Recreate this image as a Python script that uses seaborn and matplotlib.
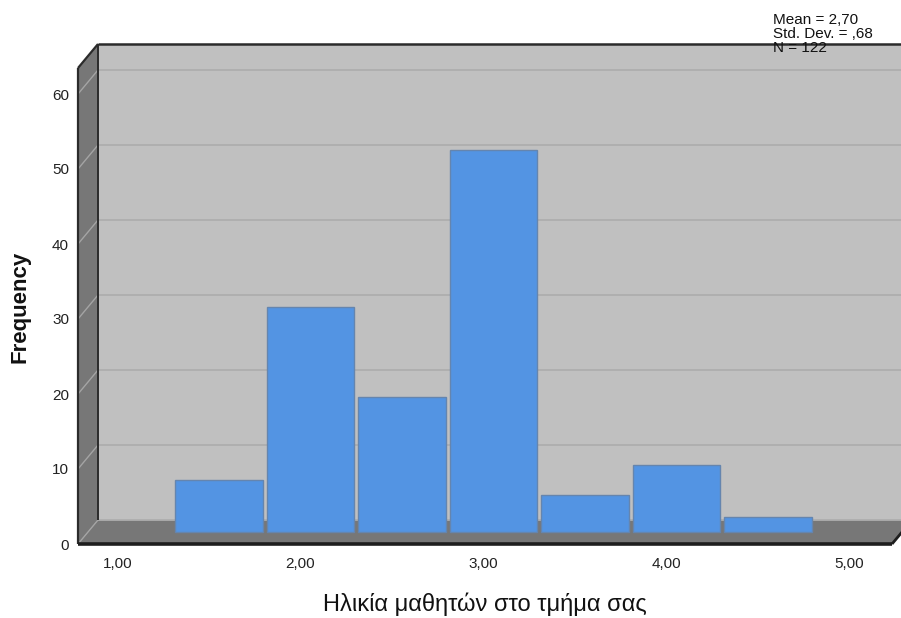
import numpy as np
import pandas as pd
import matplotlib
matplotlib.use("Agg")
import matplotlib.pyplot as plt
import seaborn as sns
from matplotlib.patches import Polygon
from matplotlib.lines import Line2D
from matplotlib.transforms import ScaledTranslation, IdentityTransform

# Histogram of student ages (coded 1-5), bins of width 0.5
bin_centers = [1.5, 2.0, 2.5, 3.0, 3.5, 4.0, 4.5]
counts = [7, 30, 18, 51, 5, 9, 2]
bin_width = 0.5
x_ticks = [1, 2, 3, 4, 5]
x_tick_labels = ["1,00", "2,00", "3,00", "4,00", "5,00"]
y_ticks = [0, 10, 20, 30, 40, 50, 60]
y_tick_labels = ["0", "10", "20", "30", "40", "50", "60"]
stats_lines = ["Mean = 2,70", "Std. Dev. = ,68", "N = 122"]
x_label = "Ηλικία μαθητών στο τμήμα σας"
y_label = "Frequency"

sns.set_theme(style="white")
plt.rcParams['font.family'] = ['Liberation Sans', 'DejaVu Sans']

W, H, DPI = 901, 618, 100
fig = plt.figure(figsize=(W / DPI, H / DPI), dpi=DPI)
fig.patch.set_facecolor("white")

# front plane of the 3D box, in pixels
fx0, fx1, fy0, fy1 = 78, 892, 544, 68
ax = fig.add_axes([fx0 / W, 1 - fy0 / H, (fx1 - fx0) / W, (fy0 - fy1) / H])
ax.patch.set_visible(False)
for s in ax.spines.values():
    s.set_visible(False)

px_per_unit_x = 183.0
px_per_unit_y = 7.5
xmin = 1 - (117.5 - fx0) / px_per_unit_x
xmax = xmin + (fx1 - fx0) / px_per_unit_x
ymax = (fy0 - fy1) / px_per_unit_y

# depth of the box (pixels right / up from front to back wall)
DX, DY = 20, 24

def depth(frac):
    return ScaledTranslation(frac * DX / DPI, frac * DY / DPI, fig.dpi_scale_trans)

df = pd.DataFrame({"age": bin_centers, "n": counts})
lo = bin_centers[0] - bin_width / 2
hi = bin_centers[-1] + bin_width / 2
n_before = len(ax.patches)
sns.histplot(data=df, x="age", weights="n", binwidth=bin_width, binrange=(lo, hi),
             shrink=0.955, color="#5394E3", edgecolor="#6585AE", linewidth=1.0,
             alpha=1.0, ax=ax)
bars = ax.patches[n_before:]

ax.set_xlim(xmin, xmax)
ax.set_ylim(0, ymax)

# bars sit half way into the box
for b in bars:
    b.set_transform(ax.transData + depth(0.5))
    b.set_clip_on(False)
    b.set_zorder(5)

fig.canvas.draw()

def pt(x, y, d):
    px, py = ax.transData.transform((x, y))
    return (px + d * DX, py + d * DY)

ident = IdentityTransform()
wall_light = "#C0C0C0"
wall_dark = "#777777"

def poly(points, color, z):
    p = Polygon(points, closed=True, facecolor=color, edgecolor="none",
                transform=ident, clip_on=False, zorder=z)
    ax.add_patch(p)

def seg(a, b, color, lw, z):
    ax.add_line(Line2D([a[0], b[0]], [a[1], b[1]], color=color, lw=lw,
                       transform=ident, clip_on=False, zorder=z,
                       solid_capstyle="butt"))

# back wall, side wall and floor
poly([pt(xmin, 0, 1), pt(xmax + 1, 0, 1), pt(xmax + 1, ymax, 1), pt(xmin, ymax, 1)], wall_light, 0.1)
poly([pt(xmin, 0, 0), pt(xmin, ymax, 0), pt(xmin, ymax, 1), pt(xmin, 0, 1)], wall_dark, 0.2)
poly([pt(xmin, 0, 0), pt(xmax, 0, 0), pt(xmax, 0, 1), pt(xmin, 0, 1)], wall_dark, 0.2)

# gridlines on back wall and side wall
for v in y_ticks:
    seg(pt(xmin, v, 1), pt(xmax + 1, v, 1), "#AEAEAE", 1.3, 0.3)
    seg(pt(xmin, v, 0), pt(xmin, v, 1), "#A4A4A4", 1.0, 0.3)

# box outline
edge = "#2B2B2B"
seg(pt(xmin, 0, 0), pt(xmin, ymax, 0), edge, 1.6, 3)
seg(pt(xmin, ymax, 0), pt(xmin, ymax, 1), edge, 1.6, 3)
seg(pt(xmin, ymax, 1), pt(xmax + 1, ymax, 1), edge, 1.8, 3)
seg(pt(xmin, 0, 1), pt(xmin, ymax, 1), edge, 1.4, 3)
seg(pt(xmin, 0, 0), pt(xmax, 0, 0), "#1E1E1E", 2.6, 3)
seg(pt(xmax, 0, 0), pt(xmax, 0, 1), "#1E1E1E", 2.0, 3)

# ticks
ax.set_xticks(x_ticks)
ax.set_xticklabels(x_tick_labels)
ax.set_yticks(y_ticks)
ax.set_yticklabels(y_tick_labels)
ax.tick_params(axis="both", length=0, labelsize=11, labelcolor="#222222")
ax.tick_params(axis="x", pad=9)
ax.tick_params(axis="y", pad=6.5)
ax.grid(False)

ax.set_xlabel(x_label, fontsize=17, color="#111111")
ax.xaxis.set_label_coords((484.5 - fx0) / (fx1 - fx0), (fy0 - 604) / (fy0 - fy1))
ax.xaxis.label.set_va("center")
ax.set_ylabel(y_label, fontsize=16, fontweight="bold", color="#111111")
ax.yaxis.set_label_coords((20 - fx0) / (fx1 - fx0), (fy0 - 306.5) / (fy0 - fy1))
ax.yaxis.label.set_va("center")

for i, line in enumerate(stats_lines):
    fig.text(773 / W, 1 - (23.5 + 14 * i) / H, line, fontsize=11, color="#111111",
             ha="left", va="baseline", zorder=10)

fig.savefig("out.png", dpi=DPI)
